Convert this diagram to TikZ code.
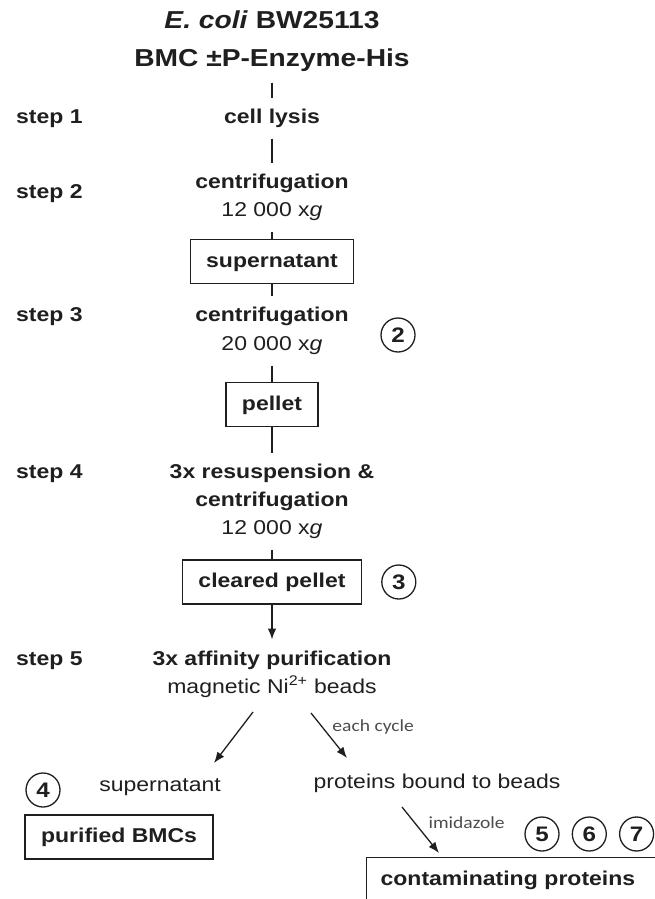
\documentclass[tikz,border=0pt]{standalone}
\usepackage{fontspec}
\setmainfont{Liberation Sans}[FakeStretch=1.15]
\newfontfamily\notefont{Carlito}[FakeStretch=1.15]
\usetikzlibrary{positioning, calc, arrows.meta}
\definecolor{ink}{gray}{0.12}

\begin{document}
\begin{tikzpicture}[x=1pt, y=1pt, color=ink]
		% node styles
			\tikzstyle{txt} = [inner sep=0pt, outer ysep=11pt, text height=15pt, text depth=4pt, font=\fontsize{20}{24}\selectfont]
			\tikzstyle{bold} = [txt, font=\fontsize{20}{24}\selectfont\bfseries]
			\tikzstyle{head} = [txt, text height=18pt, text depth=5pt, font=\fontsize{24.5}{30}\selectfont\bfseries]
			\tikzstyle{steplbl} = [anchor=west, inner sep=0pt, text height=15pt, text depth=4pt, font=\fontsize{20}{24}\selectfont\bfseries]
			\tikzstyle{box} = [draw, line width=1.3pt, inner xsep=16pt, inner ysep=0pt, minimum height=44pt, text height=15pt, text depth=4pt, font=\fontsize{20}{24}\selectfont\bfseries]
			\tikzstyle{num} = [draw, circle, line width=1.3pt, minimum size=34pt, inner sep=0pt, font=\fontsize{21}{24}\selectfont\bfseries]
			\tikzstyle{note} = [anchor=west, inner sep=0pt, text=black!70, font=\notefont\fontsize{17}{20}\selectfont]
			\tikzstyle{line} = [line width=1.1pt]
			\tikzstyle{arrow} = [line width=1.3pt, -{Latex[length=11pt, width=8.5pt]}]
			
			\useasboundingbox (0,0) rectangle (655,-899);
			\clip (0,0) rectangle (655,-899);
			
			% main column
			\node [head] (t1) at (272,-22) {\textit{E. coli} BW25113};
			\node [head] (t2) at (272,-60) {BMC ±P-Enzyme-His};
			\node [bold] (lys) at (272,-118) {cell lysis};
			\node [bold] (c1) at (272,-183) {centrifugation};
			\node [txt] (g1) at (272,-211) {12 000 x\textit{g}};
			\node [box] (sup) at (272,-261.5) {supernatant};
			\node [bold] (c2) at (272,-316) {centrifugation};
			\node [txt] (g2) at (272,-345) {20 000 x\textit{g}};
			\node [box] (pel) at (272,-404.5) {pellet};
			\node [bold] (r4) at (272,-473) {3x resuspension \&};
			\node [bold] (c4) at (272,-501) {centrifugation};
			\node [txt] (g4) at (272,-529) {12 000 x\textit{g}};
			\node [box] (clr) at (272,-582) {cleared pellet};
			\node [bold] (aff) at (272,-660) {3x affinity purification};
			\node [txt] (beads) at (272,-688) {magnetic Ni\textsuperscript{2+} beads};
			
			% fractions
			\node [txt] (sup2) at (160,-786) {supernatant};
			\node [txt] (bound) at (437,-783) {proteins bound to beads};
			\node [box] (bmc) at (119,-837) {purified BMCs};
			\node [box, anchor=north west, inner xsep=14pt, text width=294pt, align=left] (contam) at (366,-857) {contaminating proteins};
			
			% step labels
			\node [steplbl] (s1) at (16,-118) {step 1};
			\node [steplbl] (s2) at (16,-193) {step 2};
			\node [steplbl] (s3) at (16,-316) {step 3};
			\node [steplbl] (s4) at (16,-473) {step 4};
			\node [steplbl] (s5) at (16,-660) {step 5};
			
			% numbered circles
			\node [num] (n2) at (398,-335) {2};
			\node [num, right=19pt of clr] (n3) {3};
			\node [num] (n4) at (43,-790) {4};
			\node [num] (n5) at (542,-834) {5};
			\node [num, right=12pt of n5] (n6) {6};
			\node [num, right=12pt of n6] (n7) {7};
			
			% connectors
			\draw [line] (t2) -- (lys);
			\draw [line] (lys) -- (c1);
			\draw [line] (g1) -- (sup);
			\draw [line] (sup) -- (c2);
			\draw [line] (g2) -- (pel);
			\draw [line] (pel) -- (r4);
			\draw [line] (g4) -- (clr);
			\draw [arrow] (clr) -- (aff);
			\draw [arrow] ($(beads)+(-19,-24)$) -- ($(sup2)+(54,23)$);
			\draw [arrow] ($(beads)+(39,-25)$) --node[note, pos=0.3, xshift=10pt] {each cycle} ($(bound)+(-90,25)$);
			\draw [arrow] ($(bound)+(-35,-24)$) --node[note, pos=0.35, xshift=13pt] {imidazole} ($(contam.north west)+(73,4)$);
		\end{tikzpicture}
\end{document}
